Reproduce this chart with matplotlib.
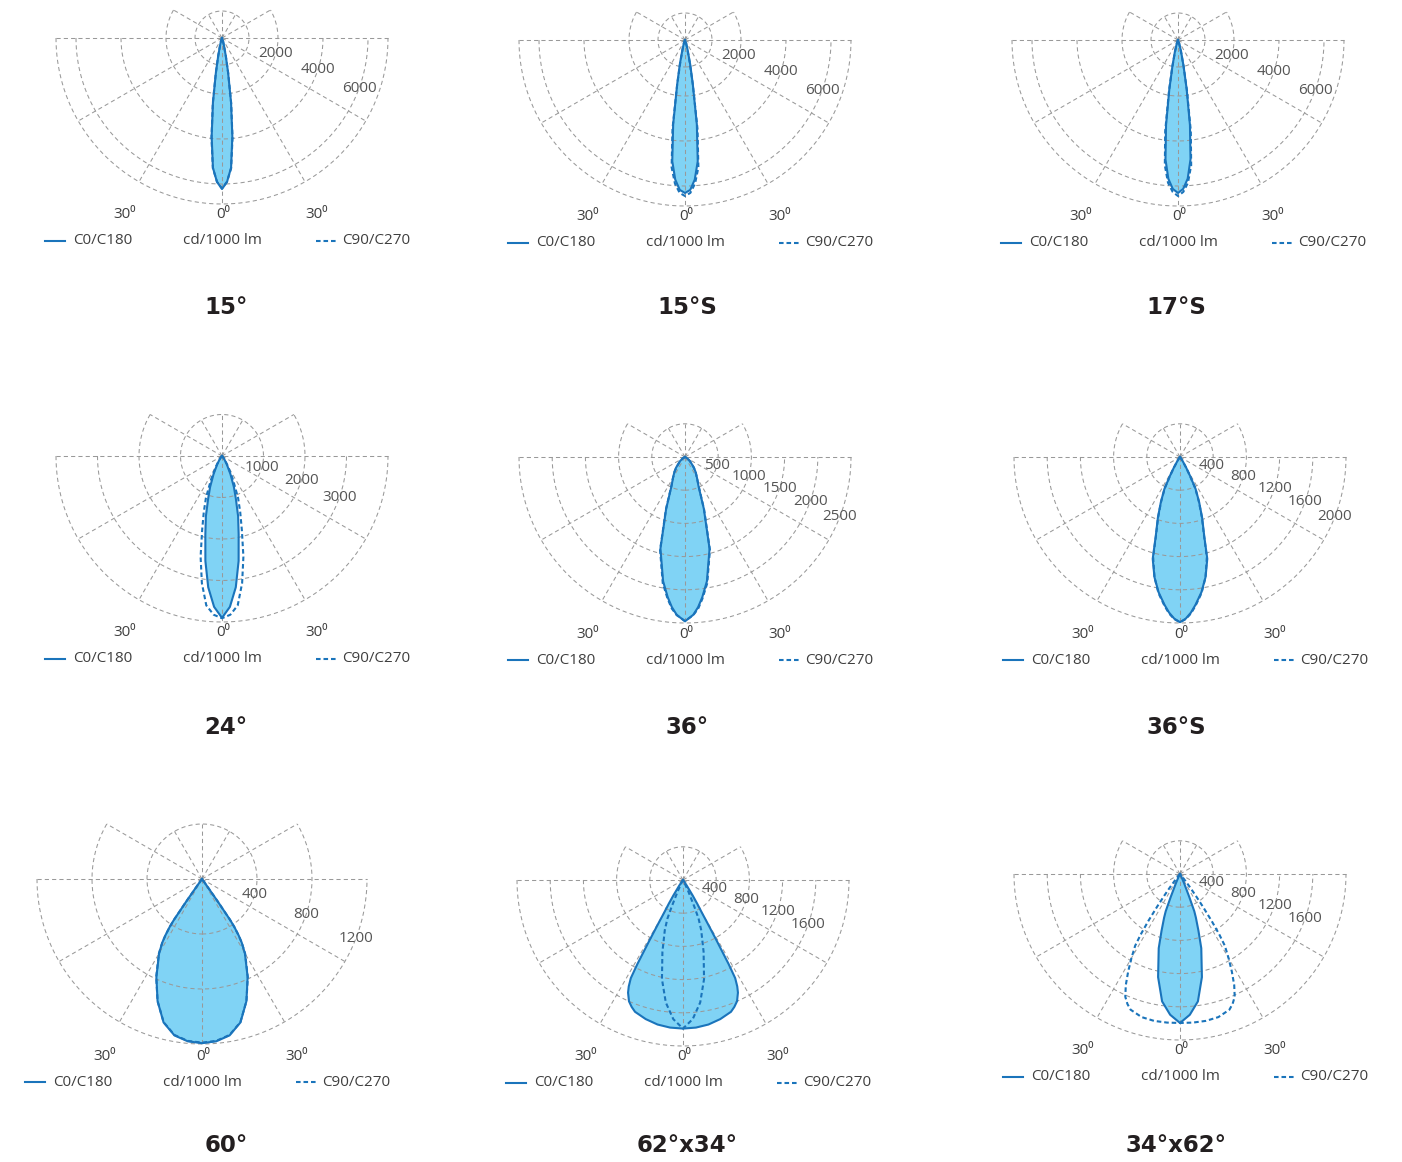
import numpy as np
import matplotlib.pyplot as plt

plt.rcParams['font.family'] = ['Open Sans', 'DejaVu Sans']

titles = ["15°", "15°S", "17°S", "24°", "36°", "36°S", "60°", "62°x34°", "34°x62°"]

# luminous intensity (cd/1000 lm) against angle from nadir (deg), half curves
ang_narrow = [0, 2, 4, 6, 8, 10, 12, 15, 20, 25]
c0_15 = [6250, 5910, 5290, 3910, 2400, 1280, 670, 260, 75, 0]
c90_15 = [6220, 5900, 5320, 3980, 2450, 1300, 680, 260, 70, 0]
c0_15s = [6350, 6200, 5730, 4930, 3290, 1620, 930, 370, 110, 0]
c90_15s = [6500, 6350, 5910, 5200, 3510, 1620, 820, 300, 75, 0]
c0_17s = [6350, 6150, 5690, 4840, 3330, 1790, 1000, 440, 110, 0]
c90_17s = [6500, 6300, 5870, 5110, 3600, 1860, 1000, 370, 75, 0]

ang_24 = [0, 3, 6, 9, 12, 15, 18, 21, 25, 30, 35, 40, 50]
c0_24 = [3900, 3640, 3180, 2560, 1930, 1500, 1080, 800, 480, 230, 100, 40, 0]
c90_24 = [3910, 3830, 3620, 3100, 2480, 1850, 1420, 1080, 620, 290, 120, 45, 0]

ang_36 = [0, 3, 5, 7, 10, 15, 20, 25, 30, 35, 40, 50, 60, 90]
c0_36 = [2475, 2380, 2270, 2130, 1900, 1430, 830, 480, 360, 280, 210, 100, 40, 0]
c90_36 = [2470, 2385, 2290, 2150, 1930, 1450, 840, 490, 360, 280, 200, 95, 35, 0]

ang_36s = [0, 2, 4, 6, 9, 12, 15, 17, 20, 23, 26, 28, 30, 33, 36, 40]
c0_36s = [1990, 1950, 1880, 1790, 1650, 1480, 1270, 1000, 780, 590, 430, 260, 150, 60, 15, 0]
c90_36s = [1990, 1955, 1890, 1800, 1660, 1480, 1250, 990, 770, 580, 420, 250, 140, 55, 15, 0]

ang_60 = [0, 5, 10, 15, 20, 25, 30, 32, 33, 34, 34.5, 35, 35.5, 36]
c0_60 = [1194, 1185, 1155, 1080, 945, 785, 624, 545, 490, 420, 360, 200, 60, 0]
c90_60 = [1190, 1182, 1152, 1078, 945, 788, 628, 545, 488, 418, 355, 195, 55, 0]

ang_62_c0 = [0, 5, 10, 15, 20, 22, 24, 26, 27, 28, 28.5, 29, 29.5, 30, 31, 32, 34, 36, 40]
c0_62 = [1790, 1785, 1768, 1735, 1690, 1650, 1600, 1510, 1440, 1340, 1150, 850, 620, 460,
         330, 220, 80, 20, 0]
ang_62_c90 = [0, 4, 8, 12, 16, 20, 22, 23, 25, 28, 30]
c90_62 = [1790, 1680, 1490, 1220, 900, 640, 500, 350, 150, 30, 0]

ang_34_c0 = [0, 4, 8, 12, 16, 18, 20, 21, 22, 24, 27, 30]
c0_34 = [1795, 1700, 1550, 1270, 930, 720, 560, 480, 300, 120, 30, 0]
ang_34_c90 = [0, 5, 10, 15, 20, 22, 24, 26, 28, 30, 32, 33, 34, 35, 36, 37, 38, 40, 45]
c90_34 = [1795, 1797, 1797, 1785, 1740, 1690, 1620, 1490, 1330, 1170, 1020, 870, 680, 480,
          320, 200, 110, 30, 0]

# grid ring values and which of them carry a label
rings_narrow = [1000, 2000, 4000, 6000, 7000]
labels_narrow = [2000, 4000, 6000]
rings_24 = [1000, 2000, 3000, 4000]
labels_24 = [1000, 2000, 3000]
rings_36 = [500, 1000, 1500, 2000, 2500]
rings_400 = [400, 800, 1200, 1600, 2000]
labels_400 = [400, 800, 1200, 1600]
rings_60 = [400, 800, 1200]

panels = [
    (ang_narrow, c0_15, ang_narrow, c90_15, rings_narrow, labels_narrow),
    (ang_narrow, c0_15s, ang_narrow, c90_15s, rings_narrow, labels_narrow),
    (ang_narrow, c0_17s, ang_narrow, c90_17s, rings_narrow, labels_narrow),
    (ang_24, c0_24, ang_24, c90_24, rings_24, labels_24),
    (ang_36, c0_36, ang_36, c90_36, rings_36, rings_36),
    (ang_36s, c0_36s, ang_36s, c90_36s, rings_400, rings_400),
    (ang_60, c0_60, ang_60, c90_60, rings_60, rings_60),
    (ang_62_c0, c0_62, ang_62_c90, c90_62, rings_400, labels_400),
    (ang_34_c0, c0_34, ang_34_c90, c90_34, rings_400, labels_400),
]

# layout (pixels): apex of each diagram and radius of each grid ring
apex = [(222, 38), (685, 40), (1178, 40),
        (222, 456), (685, 457), (1180, 457),
        (202, 879), (683, 880), (1180, 874)]
even5 = [33.2, 66.4, 99.6, 132.8, 166]
ring_px = [[27, 56, 101, 146, 166]] * 3 + [[41.5, 83, 124.5, 166], even5, even5,
                                          [55, 110, 165], even5, even5]
title_x = [226, 687, 1176]
title_y = [308, 727, 1146]

FILL = '#80d3f5'
BLUE = '#1a74bb'
DASH = (0, (2.2, 1.4))
GRID = dict(color='#999999', lw=0.75, ls=(0, (4, 3)), zorder=2)
TXT = '#3f3f3f'


def curve(ang, val, cx, cy, vals, rads):
    a = np.radians(np.concatenate([-np.array(ang[::-1], float), np.array(ang[1:], float)]))
    v = np.concatenate([np.array(val[::-1], float), np.array(val[1:], float)])
    r = np.interp(v, [0] + list(vals), [0] + list(rads))
    return cx + r * np.sin(a), cy + r * np.cos(a)


def draw_grid(ax, cx, cy, rads):
    R = rads[-1]
    t = np.radians(np.linspace(0, 360, 361))
    ax.plot(cx + rads[0] * np.sin(t), cy + rads[0] * np.cos(t), **GRID)
    t = np.radians(np.linspace(-120, 120, 241))
    ax.plot(cx + rads[1] * np.sin(t), cy + rads[1] * np.cos(t), **GRID)
    t = np.radians(np.linspace(-90, 90, 181))
    for r in rads[2:]:
        ax.plot(cx + r * np.sin(t), cy + r * np.cos(t), **GRID)
    ax.plot([cx - R, cx + R], [cy, cy], **GRID)
    for g in (-60, -30, 0, 30, 60):
        g = np.radians(g)
        ax.plot([cx, cx + R * np.sin(g)], [cy, cy + R * np.cos(g)], **GRID)
    for g in (-120, 120):
        g = np.radians(g)
        ax.plot([cx, cx + rads[1] * np.sin(g)], [cy, cy + rads[1] * np.cos(g)], **GRID)
    for g in (150, 180, 210):
        g = np.radians(g)
        ax.plot([cx, cx + rads[0] * np.sin(g)], [cy, cy + rads[0] * np.cos(g)], **GRID)


fig = plt.figure(figsize=(14.02, 11.62), dpi=100)
ax = fig.add_axes([0, 0, 1, 1])
ax.set_xlim(0, 1402)
ax.set_ylim(1162, 0)
ax.axis('off')

for i, (a0, v0, a90, v90, vals, labs) in enumerate(panels):
    cx, cy = apex[i]
    rads = ring_px[i]
    draw_grid(ax, cx, cy, rads)

    x0, y0 = curve(a0, v0, cx, cy, vals, rads)
    x9, y9 = curve(a90, v90, cx, cy, vals, rads)
    ax.fill(x0, y0, color=FILL, lw=0, zorder=1)
    ax.plot(x0, y0, color=BLUE, lw=1.5, zorder=3)
    ax.plot(x9, y9, color=BLUE, lw=1.5, ls=DASH, zorder=4)

    for v, r in zip(vals, rads):
        if v in labs:
            a = np.radians(14 + 7 * r / 166)
            ax.text(cx + r * np.cos(a), cy + r * np.sin(a), str(v), ha='center',
                    va='center', fontsize=11, color='#555555', zorder=5)

    ax.text(cx - 97, cy + 177, "30\u2070", ha='center', va='center', fontsize=11, color=TXT)
    ax.text(cx + 95, cy + 177, "30\u2070", ha='center', va='center', fontsize=11, color=TXT)
    ax.text(cx + 1, cy + 177, "0\u2070", ha='center', va='center', fontsize=11, color=TXT)

    ly = cy + 203
    ax.plot([cx - 177, cx - 157], [ly, ly], color=BLUE, lw=1.5)
    ax.text(cx - 149, ly, "C0/C180", ha='left', va='center', fontsize=11, color=TXT)
    ax.text(cx, ly, "cd/1000 lm", ha='center', va='center', fontsize=11, color=TXT)
    ax.plot([cx + 94, cx + 114], [ly, ly], color=BLUE, lw=1.5, ls=DASH)
    ax.text(cx + 120, ly, "C90/C270", ha='left', va='center', fontsize=11, color=TXT)

    ax.text(title_x[i % 3], title_y[i // 3], titles[i], ha='center', va='center',
            fontsize=16.5, fontweight='bold', color='#231f20', family='DejaVu Sans')

fig.savefig("out.png", dpi=100)
